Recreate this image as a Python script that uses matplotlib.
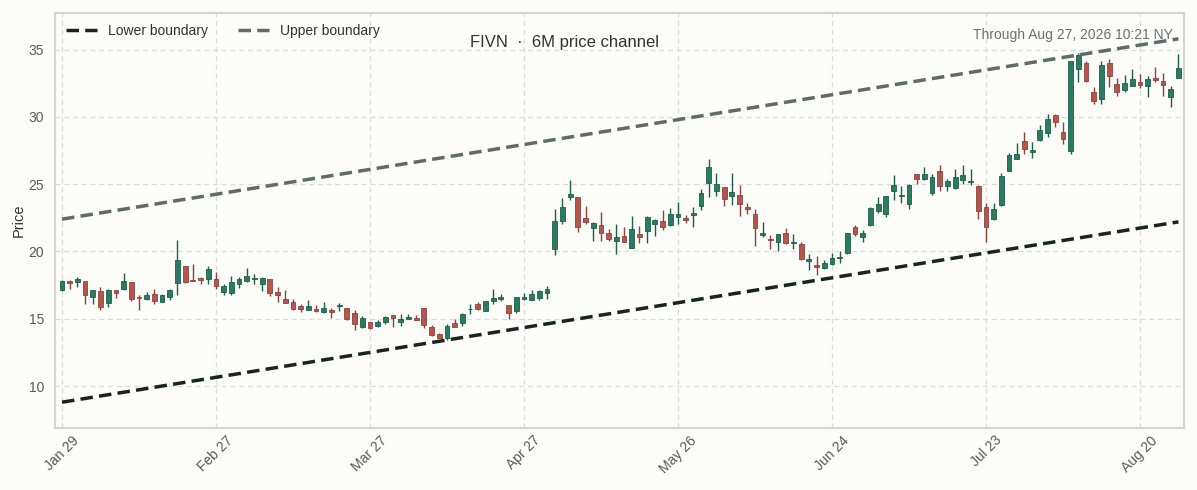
import matplotlib
matplotlib.use("Agg")
import matplotlib.pyplot as plt
import numpy as np
import pandas as pd

# ---------------- data ----------------
holidays = ["2026-02-16", "2026-04-03", "2026-05-25", "2026-06-19", "2026-07-03"]
dates = pd.bdate_range("2026-01-29", "2026-08-27", freq="C", holidays=holidays)

opens = [17.10, 17.77, 17.70, 17.77, 16.61, 17.03, 16.16, 17.10, 17.23, 17.70,
         16.61, 16.48, 16.81, 16.24, 16.61, 17.67, 18.89, 17.89, 18.02, 17.97,
         17.97, 16.98, 16.95, 17.55, 17.80, 17.97, 17.60, 17.97, 16.98, 16.49,
         16.24, 15.94, 15.65, 15.70, 15.52, 15.62, 15.92, 15.82, 15.45, 14.41,
         14.75, 14.46, 14.78, 15.25, 14.78, 15.00, 15.08, 15.77, 14.41, 13.87,
         13.55, 14.70, 14.70, 15.69, 16.08, 15.59, 16.33, 16.50, 16.01, 15.57,
         16.48, 16.43, 16.55, 16.92, 20.15, 22.24, 24.01, 24.06, 22.49, 21.75,
         22.00, 21.40, 20.76, 21.17, 20.29, 21.27, 21.54, 22.02, 22.24, 21.95,
         22.56, 22.49, 22.73, 23.41, 25.12, 24.51, 24.80, 24.10, 24.20, 23.34,
         22.76, 21.22, 20.93, 20.73, 21.34, 20.61, 20.56, 19.27, 19.02, 18.78,
         19.07, 19.49, 19.88, 21.83, 21.10, 22.00, 23.00, 22.80, 24.46, 24.12,
         23.54, 25.73, 25.41, 24.32, 25.98, 24.83, 24.68, 25.32, 25.17, 24.88,
         23.27, 22.39, 23.45, 25.97, 26.90, 28.19, 27.42, 28.27, 28.77, 30.14,
         28.84, 27.47, 33.55, 34.00, 31.88, 31.33, 34.00, 32.46, 31.96, 32.33,
         32.56, 32.26, 32.88, 32.68, 31.51, 32.88]
highs = [17.85, 17.85, 18.12, 17.80, 17.15, 17.35, 17.23, 17.15, 18.41, 17.72,
         16.73, 16.98, 17.23, 16.85, 17.23, 20.82, 18.91, 19.08, 18.09, 18.89,
         18.51, 17.60, 18.20, 18.10, 18.74, 18.30, 18.10, 17.97, 17.36, 17.13,
         16.44, 16.07, 16.39, 15.99, 16.24, 15.82, 16.17, 15.82, 15.65, 15.20,
         14.75, 14.88, 15.20, 15.25, 15.32, 15.32, 15.25, 15.82, 14.53, 13.92,
         14.61, 14.98, 15.44, 16.13, 16.26, 16.31, 17.24, 16.87, 16.01, 16.63,
         16.92, 17.17, 17.12, 17.41, 23.15, 23.97, 25.30, 24.06, 23.40, 22.17,
         22.91, 21.67, 22.04, 21.83, 22.61, 21.88, 22.61, 22.39, 23.05, 23.24,
         23.66, 22.68, 23.34, 24.63, 26.88, 25.80, 24.80, 25.80, 24.93, 23.61,
         23.17, 22.20, 21.22, 21.29, 21.71, 21.27, 20.73, 19.83, 19.63, 19.39,
         19.88, 20.05, 21.39, 22.00, 21.59, 23.29, 24.02, 24.15, 25.66, 24.83,
         25.00, 25.73, 26.29, 25.73, 26.41, 25.41, 26.10, 26.41, 26.10, 24.95,
         23.61, 23.59, 25.80, 27.32, 28.07, 28.89, 28.14, 29.39, 30.21, 30.21,
         29.64, 34.13, 34.75, 34.13, 32.21, 34.13, 34.30, 32.88, 33.13, 33.55,
         33.18, 33.00, 33.70, 33.25, 32.26, 34.70]
lows = [17.03, 17.23, 17.35, 16.11, 16.11, 15.62, 15.91, 16.56, 17.15, 16.29,
        15.67, 16.36, 16.06, 16.21, 16.36, 16.73, 17.67, 17.77, 17.55, 17.60,
        17.18, 16.73, 16.78, 17.31, 17.75, 17.55, 17.06, 16.69, 16.24, 16.19,
        15.62, 15.50, 15.65, 15.50, 15.45, 15.08, 15.57, 14.90, 14.16, 14.33,
        14.21, 14.41, 14.58, 14.41, 14.46, 14.95, 14.88, 14.33, 13.74, 13.55,
        13.42, 14.36, 14.48, 15.39, 15.64, 15.59, 16.13, 16.31, 14.98, 15.44,
        16.38, 16.38, 16.38, 16.45, 19.70, 22.04, 23.82, 21.48, 22.04, 20.81,
        20.76, 20.74, 19.83, 20.68, 20.29, 20.66, 20.66, 21.15, 21.59, 21.88,
        22.07, 22.15, 21.83, 23.10, 24.07, 24.15, 23.41, 23.46, 22.61, 22.80,
        20.37, 21.05, 20.17, 20.05, 20.54, 20.17, 19.39, 18.61, 18.24, 18.66,
        19.02, 19.15, 19.80, 21.17, 20.73, 21.88, 22.88, 22.56, 23.85, 23.61,
        23.17, 25.00, 25.29, 24.20, 24.51, 24.51, 24.63, 25.00, 24.93, 22.44,
        20.73, 22.32, 23.40, 25.97, 26.85, 27.22, 26.97, 28.22, 28.47, 29.21,
        28.02, 27.27, 32.58, 32.58, 30.96, 30.96, 32.21, 31.56, 31.83, 32.26,
        32.13, 31.46, 32.58, 31.58, 30.71, 32.88]
closes = [17.77, 17.65, 17.97, 16.73, 17.10, 15.91, 17.10, 16.93, 17.77, 16.48,
          16.53, 16.73, 16.31, 16.73, 17.15, 19.33, 17.72, 17.80, 17.85, 18.71,
          17.42, 17.47, 17.70, 17.93, 18.17, 18.02, 18.05, 16.88, 16.74, 16.19,
          15.70, 15.70, 15.94, 15.57, 15.82, 15.50, 15.99, 14.95, 14.58, 15.05,
          14.33, 14.75, 15.10, 15.03, 15.00, 15.15, 14.88, 14.51, 13.79, 13.60,
          14.46, 14.41, 15.39, 15.76, 15.71, 16.31, 16.55, 16.63, 15.44, 16.58,
          16.63, 16.82, 17.07, 17.22, 22.24, 23.33, 24.26, 21.85, 22.17, 22.09,
          21.35, 20.94, 21.11, 20.73, 21.66, 21.10, 22.56, 22.32, 21.83, 22.76,
          22.80, 22.37, 22.83, 24.34, 26.27, 25.00, 23.90, 24.44, 23.54, 23.17,
          21.71, 21.37, 20.83, 21.29, 20.61, 20.73, 19.44, 19.46, 18.85, 19.15,
          19.51, 19.59, 21.34, 21.29, 21.37, 23.24, 23.49, 24.10, 24.95, 24.20,
          24.95, 25.37, 25.73, 25.54, 24.83, 25.24, 25.54, 25.66, 25.24, 22.98,
          21.78, 23.12, 25.57, 27.14, 27.22, 27.64, 27.52, 29.01, 29.84, 29.64,
          28.34, 34.13, 34.58, 32.63, 31.21, 33.88, 33.00, 31.88, 32.51, 32.81,
          32.36, 32.81, 32.76, 32.36, 32.06, 33.63]

lower_start, lower_end = 8.8, 22.2
upper_start, upper_end = 22.4, 35.8

ticker = "FIVN"
title_text = "FIVN  \u00b7  6M price channel"
stamp_text = "Through Aug 27, 2026 10:21 NY"

# ---------------- style ----------------
BG = "#fcfcf9"
UP = "#2b7a62"
UP_EDGE = "#1f5e4b"
DN = "#b2574e"
DN_EDGE = "#8e423b"
plt.rcParams["font.family"] = ["Liberation Sans", "DejaVu Sans"]

fig = plt.figure(figsize=(11.97, 4.90), dpi=100, facecolor=BG)
ax = fig.add_axes([0.046, 0.127, 0.943, 0.846])
ax.set_facecolor(BG)

o = np.array(opens); h = np.array(highs); l = np.array(lows); c = np.array(closes)
x = np.arange(len(o))
up = c >= o

ax.vlines(x[up], l[up], h[up], color=UP_EDGE, linewidth=1.0, zorder=3)
ax.vlines(x[~up], l[~up], h[~up], color=DN_EDGE, linewidth=1.0, zorder=3)
body_bottom = np.minimum(o, c)
body_h = np.maximum(np.abs(c - o), 0.06)
ax.bar(x[up], body_h[up], bottom=body_bottom[up], width=0.62, color=UP,
       edgecolor=UP_EDGE, linewidth=0.6, zorder=4)
ax.bar(x[~up], body_h[~up], bottom=body_bottom[~up], width=0.62, color=DN,
       edgecolor=DN_EDGE, linewidth=0.6, zorder=4)

# channel
xe = [x[0], x[-1]]
ax.plot(xe, [lower_start, lower_end], linestyle=(0, (3.6, 1.8)), color="#17241f",
        linewidth=2.5, label="Lower boundary", zorder=5)
ax.plot(xe, [upper_start, upper_end], linestyle=(0, (3.6, 1.8)), color="#5f6b68",
        linewidth=2.5, label="Upper boundary", zorder=5)

ax.set_xlim(-0.9, 145.7)
ax.set_ylim(6.9, 37.7)

tick_pos = list(range(0, len(x), 20))
ax.set_xticks(tick_pos)
ax.set_xticklabels([dates[i].strftime("%b %d") for i in tick_pos], rotation=45,
                   ha="center")
ax.set_yticks([10, 15, 20, 25, 30, 35])
ax.tick_params(axis="y", length=0, labelsize=10, colors="#5a5a5a", pad=8)
ax.tick_params(axis="x", length=0, labelsize=10, colors="#5a5a5a", pad=4)

ax.grid(True, color="#dcdcdc", linestyle=(0, (4, 3)), linewidth=0.9, zorder=0)
ax.set_axisbelow(True)
for s in ax.spines.values():
    s.set_color("#d4d4d4")
    s.set_linewidth(1.5)

ax.set_ylabel("Price", fontsize=10.5, color="#333333", labelpad=2)

leg = ax.legend(loc="upper left", ncol=2, frameon=False, fontsize=10,
                handlelength=2.2, columnspacing=2.2, borderaxespad=0.4,
                bbox_to_anchor=(0.0, 1.0))
for t in leg.get_texts():
    t.set_color("#333333")

fig.text(565 / 1197, 1 - 43 / 490, title_text, ha="center", va="center",
         fontsize=12, color="#333333")
ax.text(0.990, 0.947, stamp_text, transform=ax.transAxes, ha="right", va="center",
        fontsize=10, color="#707070", zorder=6)

fig.savefig("out.png", dpi=100, facecolor=BG)
